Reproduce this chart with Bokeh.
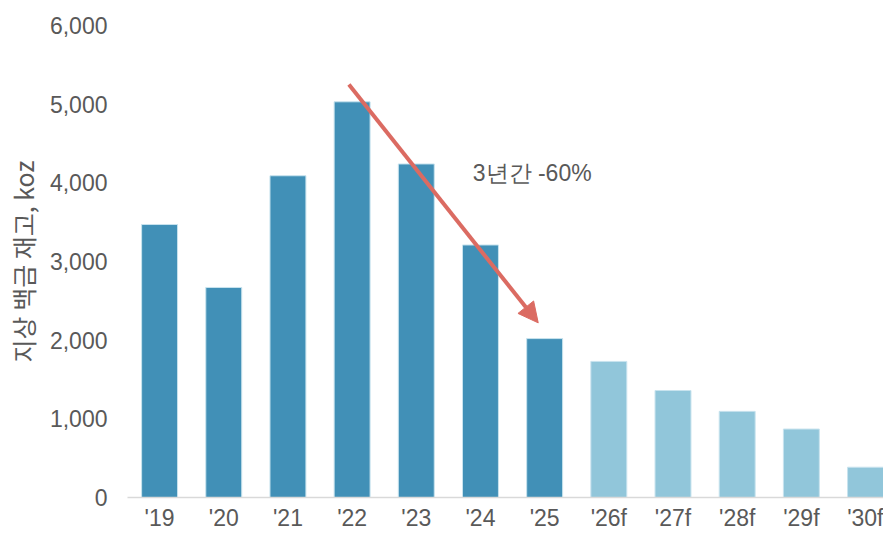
from bokeh.plotting import figure
from bokeh.models import Range1d, FixedTicker, Arrow, NormalHead, Label, ColumnDataSource, NumeralTickFormatter
from bokeh.embed import file_html
from bokeh.resources import INLINE

categories = ["'19", "'20", "'21", "'22", "'23", "'24", "'25", "'26f", "'27f", "'28f", "'29f", "'30f"]
stock_koz = [3470, 2670, 4090, 5030, 4240, 3210, 2020, 1730, 1360, 1095, 870, 385]
is_forecast = [False] * 7 + [True] * 5
y_ticks = [0, 1000, 2000, 3000, 4000, 5000, 6000]
annotation_text = "3년간 -60%"
arrow_start = (2.95, 5250)
arrow_end = (5.9, 2220)

DARK = "#4190b7"
LIGHT = "#91c6da"
GREY = "#595959"
FONT = "Liberation Sans"

xs = list(range(len(categories)))
colors = [LIGHT if f else DARK for f in is_forecast]
src = ColumnDataSource(dict(x=xs, top=stock_koz, color=colors))

p = figure(width=883, height=533, output_backend="svg", toolbar_location=None,
           x_range=Range1d(-0.5, 11.28), y_range=Range1d(0, 6000),
           min_border_left=127, min_border_right=0, min_border_top=25, min_border_bottom=36)
p.outline_line_color = None
p.xgrid.visible = False
p.ygrid.visible = False
p.background_fill_color = "white"
p.border_fill_color = "white"

p.vbar(x="x", top="top", width=0.56, bottom=0, fill_color="color", line_color="#c8e3ee",
       line_width=1, source=src)

# x axis
xa = p.xaxis[0]
xa.ticker = FixedTicker(ticks=xs)
xa.major_label_overrides = {i: c for i, c in enumerate(categories)}
xa.axis_line_color = "#d9d9d9"
xa.axis_line_width = 1.5
xa.major_tick_line_color = None
xa.major_tick_out = 0
xa.major_tick_in = 0
xa.minor_tick_line_color = None
xa.minor_tick_out = 0
xa.major_label_text_font = FONT
xa.major_label_text_font_size = "23px"
xa.major_label_text_color = GREY
xa.major_label_standoff = 7

# y axis
ya = p.yaxis[0]
ya.ticker = FixedTicker(ticks=y_ticks)
ya.formatter = NumeralTickFormatter(format="0,0")
ya.axis_line_color = None
ya.major_tick_line_color = None
ya.major_tick_out = 0
ya.major_tick_in = 0
ya.minor_tick_line_color = None
ya.minor_tick_out = 0
ya.major_label_text_font = FONT
ya.major_label_text_font_size = "23px"
ya.major_label_text_color = GREY
ya.major_label_standoff = 20
ya.axis_label = "지상 백금 재고, koz"
ya.axis_label_text_font = "Noto Sans CJK KR"
ya.axis_label_text_font_size = "25px"
ya.axis_label_text_font_style = "normal"
ya.axis_label_text_color = GREY
ya.axis_label_standoff = 6

p.add_layout(Arrow(end=NormalHead(size=20, fill_color="#db6b62", line_color="#db6b62"),
                   x_start=arrow_start[0], y_start=arrow_start[1],
                   x_end=arrow_end[0], y_end=arrow_end[1],
                   line_color="#db6b62", line_width=4))

p.add_layout(Label(x=4.88, y=4120, text=annotation_text, text_font=FONT,
                   text_font_size="23px", text_color=GREY, text_baseline="middle",
                   text_align="left"))

open("out.html", "w").write(file_html(p, INLINE))
